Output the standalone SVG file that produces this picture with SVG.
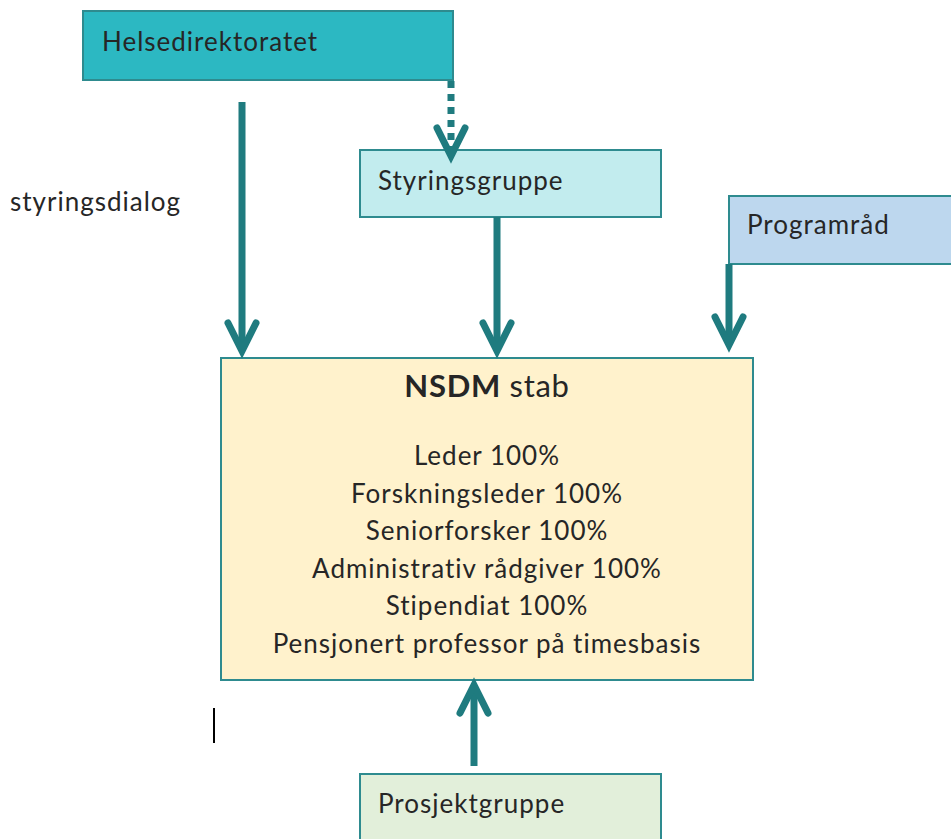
<svg xmlns="http://www.w3.org/2000/svg" width="951" height="839" viewBox="0 0 951 839">
<style>
.box{stroke:#2E8B8F;stroke-width:2}
.t{font-family:Lato,"Open Sans","Liberation Sans",sans-serif;font-size:26px;letter-spacing:1px;fill:#262626}
.c{font-family:Lato,"Open Sans","Liberation Sans",sans-serif;font-size:26px;letter-spacing:1px;fill:#262626;text-anchor:middle}
.ln{stroke:#1F7B7F;stroke-width:7;fill:none}
.hd{stroke:#1F7B7F;stroke-width:7;fill:none;stroke-linecap:round;stroke-linejoin:miter}
</style>
<rect width="951" height="839" fill="#fff"/>
<g id="helsedirektoratet">
<rect class="box" x="83" y="11" width="370" height="69" fill="#2CB8C2"/>
<text class="t" x="102" y="51">Helsedirektoratet</text>
</g>
<g id="styringsgruppe">
<rect class="box" x="360" y="150" width="301" height="67" fill="#C2ECEE"/>
<text class="t" x="378" y="190">Styringsgruppe</text>
</g>
<g id="programrad">
<rect class="box" x="729" y="196" width="230" height="68" fill="#BDD7EE"/>
<text class="t" x="747" y="234">Programråd</text>
</g>
<g id="nsdm">
<rect class="box" x="221" y="358" width="532" height="322" fill="#FFF2CC"/>
<text class="c" x="487" y="397" style="font-size:31px;letter-spacing:0.7px"><tspan font-weight="bold">NSDM</tspan> stab</text>
<text class="c" x="487" y="465">Leder 100%</text>
<text class="c" x="487" y="503">Forskningsleder 100%</text>
<text class="c" x="487" y="540">Seniorforsker 100%</text>
<text class="c" x="487" y="578">Administrativ rådgiver 100%</text>
<text class="c" x="487" y="615">Stipendiat 100%</text>
<text class="c" x="487" y="653">Pensjonert professor på timesbasis</text>
</g>
<g id="prosjektgruppe">
<rect class="box" x="360" y="774" width="301" height="70" fill="#E2EFDA"/>
<text class="t" x="378" y="813">Prosjektgruppe</text>
</g>
<g id="label">
<text class="t" x="10" y="211">styringsdialog</text>
<line x1="214" y1="708" x2="214" y2="743" stroke="#000" stroke-width="2"/>
</g>
<g id="connectors">
<line class="ln" x1="451" y1="81" x2="451" y2="150" stroke-dasharray="7,6"/>
<polyline class="hd" points="437,128 451,156 465,128"/>
<line class="ln" x1="242" y1="102" x2="242" y2="348"/>
<polyline class="hd" points="228,323 242,351 256,323"/>
<line class="ln" x1="497" y1="217" x2="497" y2="348"/>
<polyline class="hd" points="483,323 497,351 511,323"/>
<line class="ln" x1="729" y1="264" x2="729" y2="342"/>
<polyline class="hd" points="715,317 729,345 743,317"/>
<line class="ln" x1="474" y1="766" x2="474" y2="688"/>
<polyline class="hd" points="460,713 474,685 488,713"/>
</g>
</svg>
